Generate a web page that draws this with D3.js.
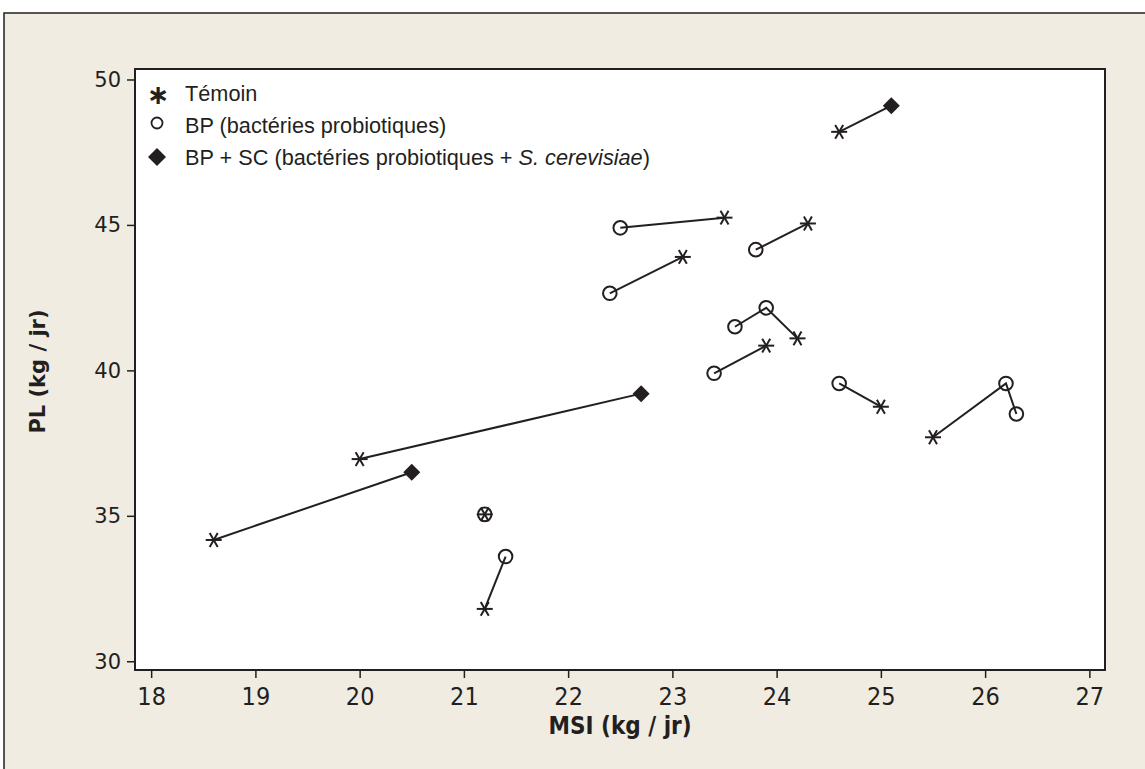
<!DOCTYPE html>
<html>
<head>
<meta charset="utf-8">
<script src="https://cdn.jsdelivr.net/npm/d3@7"></script>
<style>
  html, body { margin: 0; padding: 0; background: #ffffff; }
  svg { display: block; }
</style>
</head>
<body>
<svg id="chart" width="1145" height="769"></svg>
<script>
// ---- Data ----
const xTicks = [18, 19, 20, 21, 22, 23, 24, 25, 26, 27];
const yTicks = [30, 35, 40, 45, 50];
const legendLabels = ["Témoin", "BP (bactéries probiotiques)", "BP + SC (bactéries probiotiques + "];
// one entry per plotted point; points with the same study id are joined by a line
const study  = [1, 1, 2, 2, 3, 3, 4, 4, 5, 5, 5, 6, 6, 7, 7, 8, 8, 8, 9, 9, 10, 10, 11, 11, 12, 12];
const groupe = ["T","SC", "BP","T", "BP","T", "BP","T", "BP","BP","T", "BP","T", "BP","T", "T","BP","BP", "T","SC", "T","SC", "T","BP", "T","BP"];
const msi    = [24.6, 25.1, 22.5, 23.5, 23.8, 24.3, 22.4, 23.1, 23.6, 23.9, 24.2, 23.4, 23.9, 24.6, 25.0, 25.5, 26.2, 26.3, 20.0, 22.7, 18.6, 20.5, 21.2, 21.2, 21.2, 21.4];
const pl     = [48.2, 49.1, 44.9, 45.25, 44.15, 45.05, 42.65, 43.9, 41.5, 42.15, 41.1, 39.9, 40.85, 39.55, 38.75, 37.7, 39.55, 38.5, 36.95, 39.2, 34.17, 36.5, 35.05, 35.05, 31.8, 33.6];

const ink = "#231f20";
const svg = d3.select("#chart");

// outer panel
svg.append("rect").attr("x", 4).attr("y", 13).attr("width", 1160).attr("height", 780)
  .attr("fill", "#f1ece2").attr("stroke", ink).attr("stroke-width", 1.5);

const plot = { left: 135, right: 1105, top: 69, bottom: 670 };
const x = d3.scaleLinear().domain([17.845, 27.15]).range([plot.left, plot.right]);
const y = d3.scaleLinear().domain([29.7, 50.36]).range([plot.bottom, plot.top]);

svg.append("rect").attr("x", plot.left).attr("y", plot.top)
  .attr("width", plot.right - plot.left).attr("height", plot.bottom - plot.top)
  .attr("fill", "#ffffff").attr("stroke", ink).attr("stroke-width", 2);

// axes
const xAxis = svg.append("g").attr("transform", `translate(0,${plot.bottom})`)
  .call(d3.axisBottom(x).tickValues(xTicks).tickSize(8).tickPadding(9).tickFormat(d3.format("d")));
xAxis.select(".domain").remove();
xAxis.selectAll("line").attr("stroke", ink).attr("stroke-width", 1.5);
xAxis.selectAll("text").attr("fill", ink)
  .style("font-family", "'Liberation Sans Narrow', 'DejaVu Sans Condensed', sans-serif")
  .style("font-size", "25px");

const yAxis = svg.append("g").attr("transform", `translate(${plot.left},0)`)
  .call(d3.axisLeft(y).tickValues(yTicks).tickSize(8).tickPadding(6).tickFormat(d3.format("d")));
yAxis.select(".domain").remove();
yAxis.selectAll("line").attr("stroke", ink).attr("stroke-width", 1.5);
yAxis.selectAll("text").attr("fill", ink)
  .style("font-family", "'DejaVu Sans', Verdana, sans-serif")
  .style("font-size", "21px");

// axis titles
svg.append("text").attr("x", (plot.left + plot.right) / 2).attr("y", 734)
  .attr("text-anchor", "middle").attr("fill", ink)
  .style("font-family", "'DejaVu Sans Condensed', 'DejaVu Sans', sans-serif")
  .style("font-weight", "bold").style("font-size", "24px")
  .text("MSI (kg / jr)");
svg.append("text").attr("transform", `translate(45,${(plot.top + plot.bottom) / 2 + 2}) rotate(-90)`)
  .attr("text-anchor", "middle").attr("fill", ink)
  .style("font-family", "'DejaVu Sans', Verdana, sans-serif")
  .style("font-weight", "bold").style("font-size", "21px")
  .text("PL (kg / jr)");

// connecting lines
const pts = msi.map((m, i) => ({ s: study[i], g: groupe[i], x: m, y: pl[i] }));
const byStudy = d3.groups(pts, d => d.s);
const line = d3.line().x(d => x(d.x)).y(d => y(d.y));
svg.append("g").selectAll("path").data(byStudy).join("path")
  .attr("d", d => line(d[1])).attr("fill", "none").attr("stroke", ink).attr("stroke-width", 2);

// symbols
function drawSymbol(g, type, cx, cy) {
  if (type === "T") {
    const r = 8;
    [0, 60, 120].forEach(a => {
      const rad = a * Math.PI / 180;
      g.append("line").attr("x1", cx - r * Math.cos(rad)).attr("y1", cy - r * Math.sin(rad))
        .attr("x2", cx + r * Math.cos(rad)).attr("y2", cy + r * Math.sin(rad))
        .attr("stroke", ink).attr("stroke-width", 2);
    });
  } else if (type === "BP") {
    g.append("circle").attr("cx", cx).attr("cy", cy).attr("r", 6.8)
      .attr("fill", "none").attr("stroke", ink).attr("stroke-width", 2);
  } else {
    const r = 8.5;
    g.append("path").attr("d", `M${cx},${cy - r}L${cx + r},${cy}L${cx},${cy + r}L${cx - r},${cy}Z`)
      .attr("fill", ink);
  }
}
const symG = svg.append("g");
pts.forEach(p => drawSymbol(symG, p.g, x(p.x), y(p.y)));

// legend
const legFont = "'Liberation Sans Narrow', 'Arial Narrow', sans-serif";
const leg = svg.append("g");
const legY = [93, 125, 157];
// star as text glyph
leg.append("text").attr("x", 158).attr("y", legY[0] + 11).attr("text-anchor", "middle")
  .attr("fill", ink).style("font-family", "'DejaVu Sans', sans-serif").style("font-weight", "bold")
  .style("font-size", "27px").text("∗");
leg.append("circle").attr("cx", 157).attr("cy", legY[1] - 2).attr("r", 5.5)
  .attr("fill", "none").attr("stroke", ink).attr("stroke-width", 1.8);
leg.append("path").attr("d", `M157,${legY[2] - 9}L166,${legY[2]}L157,${legY[2] + 9}L148,${legY[2]}Z`).attr("fill", ink);
legendLabels.forEach((t, i) => {
  const tx = leg.append("text").attr("x", 185).attr("y", legY[i] + 8).attr("fill", ink)
    .style("font-family", legFont).style("font-size", "21.7px");
  tx.append("tspan").text(t);
  if (i === 2) {
    tx.append("tspan").style("font-style", "italic").text("S. cerevisiae");
    tx.append("tspan").text(")");
  }
});
</script>
</body>
</html>
